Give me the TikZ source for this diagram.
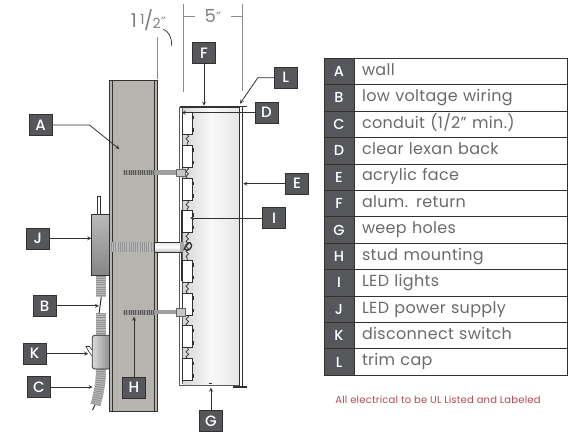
\documentclass[tikz,border=0pt]{standalone}
\usepackage{fontspec}
\setmainfont{Poppins}[LetterSpace=2]
\newfontfamily\tagfont{Poppins Medium}
\newfontfamily\primefont{DejaVu Sans}
\usepackage{tikz}
\usetikzlibrary{arrows,shapes,positioning,decorations.pathmorphing}
\definecolor{tagfill}{HTML}{55575A}
\definecolor{rowline}{HTML}{33302D}
\definecolor{rowtext}{HTML}{6A6A6A}
\definecolor{wallfill}{HTML}{B6B4AE}
\definecolor{notered}{HTML}{B5485A}
\tikzset{
  tag/.style={draw=rowline, line width=.6pt, fill=tagfill, text=white, font=\tagfont\fontsize{15}{15}\selectfont,
    minimum width=23pt, minimum height=21pt, inner sep=0pt},
  keybox/.style={draw=rowline, line width=.9pt, fill=tagfill, text=white, font=\tagfont\fontsize{14.5}{15}\selectfont,
    minimum width=30pt, minimum height=26.42pt, inner sep=0pt, outer sep=0pt},
  rowbox/.style={draw=rowline, line width=.9pt, text=rowtext, font=\fontsize{16}{15}\selectfont, text width=197.7pt,
    inner xsep=8pt, inner ysep=0pt, outer sep=0pt, minimum height=26.42pt, text height=10.5pt, text depth=3pt},
  callout/.style={->, >=stealth, draw=rowline, line width=.8pt},
  ledbox/.style={draw=rowline, line width=.7pt, fill=white, minimum width=10pt, minimum height=22pt, inner sep=0pt, outer sep=0pt},
  wire/.style={draw=rowline, line width=.7pt, decorate, decoration={snake, amplitude=1.3pt, segment length=5pt}},
  conduit/.style={line width=10pt, draw=gray!55, postaction={draw=gray!85, dash pattern=on 1pt off 1.2pt}},
  threadline/.style={line width=5pt, draw=rowline!80, postaction={draw=gray!80, dash pattern=on .8pt off 1pt}},
  dimline/.style={draw=gray!90, line width=.7pt},
}
\begin{document}
\begin{tikzpicture}[x=1pt, y=-1pt]
      \useasboundingbox (0,0) rectangle (571,432);

      % wall
      \draw[fill=wallfill, draw=rowline, line width=.7pt] (109,80) rectangle (157.7,411);
      \draw[rowline, line width=.7pt] (112.3,80) -- (112.3,411);
      \draw[rowline, line width=.7pt] (154.3,80) -- (154.3,411);

      % sign can
      \draw[left color=gray!32, right color=gray!20, middle color=gray!5, draw=none] (183,108) rectangle (239.5,385);
      \draw[rowline!80, line width=.7pt] (179.7,107) -- (179.7,385.7) -- (240,385.7);
      \draw[rowline!80, line width=.7pt] (182.3,108) -- (182.3,384);
      \draw[rowline, line width=.7pt] (239.3,107) -- (239.3,385.7);
      \draw[rowline, line width=.7pt] (242,107) -- (242,385.7);
      \draw[rowline, line width=1.3pt] (180,107) -- (240,107);
      \draw[rowline, line width=1.6pt, line cap=round] (233.5,106.5) -- (246.3,106.5);
      \draw[rowline, line width=1.2pt] (233,387) -- (246.5,387);
      \draw[rowline, line width=1.3pt] (208.5,383.5) -- (212,383.5);
      \draw[rowline, line width=1.1pt] (181.4,210) -- (181.4,281);

      % led lights
      \node[ledbox] (led1) at (187.3,123.7) {};
      \node[ledbox] (led2) at (187.3,156.3) {};
      \node[ledbox] (led3) at (187.3,189.5) {};
      \node[ledbox] (led4) at (187.3,221.3) {};
      \node[ledbox] (led5) at (187.3,271.3) {};
      \node[ledbox] (led6) at (187.3,304) {};
      \node[ledbox] (led7) at (187.3,336.7) {};
      \node[ledbox] (led8) at (187.3,369.5) {};
      \foreach \n in {1,...,8} {
        \draw[rowline, line width=.9pt] ([shift={(1,3)}]led\n.north east) -- +(0,-3.5pt);
        \draw[rowline, line width=.9pt] ([shift={(1,-3)}]led\n.south east) -- +(0,3.5pt);
      }
      \draw[wire] (led1.south) -- (led2.north);
      \draw[wire] (led2.south) -- (led3.north);
      \draw[wire] (led3.south) -- (led4.north);
      \draw[wire] (led4.south) -- (led5.north);
      \draw[wire] (led5.south) -- (led6.north);
      \draw[wire] (led6.south) -- (led7.north);
      \draw[wire] (led7.south) -- (led8.north);

      % studs
      \draw[threadline] (123,172.7) -- (155,172.7);
      \draw[gray!75, line width=4.5pt] (155,172.7) -- (178,172.7);
      \draw[fill=gray!45, draw=gray!80!black, line width=.5pt] (176,169) rectangle (185,176.5);
      \draw[threadline] (123,312) -- (155,312);
      \draw[gray!75, line width=4.5pt] (155,312) -- (178,312);
      \draw[fill=gray!45, draw=gray!80!black, line width=.5pt] (176,308.3) rectangle (185,315.8);
      \draw[conduit] (108.7,247) -- (154.7,247);
      \draw[top color=gray!20, bottom color=gray!50, middle color=white, draw=rowline, line width=.6pt] (154.7,242) rectangle (180,252);
      \fill[gray!70] (180,242) rectangle (184,252);
      \draw[rowline, line width=1.3pt] (184,250) .. controls (187,238) and (195,243) .. (190,249) .. controls (188,251) and (186,251) .. (185,249);

      % power supply
      \draw[fill=white, draw=rowline, line width=.7pt] (97.3,196.7) rectangle (100.5,214.7);
      \draw[top color=gray!55, bottom color=gray!95, draw=rowline, line width=.8pt] (91.3,214.7) rectangle (109,275.3);

      % conduit, wire and switch
      \draw[conduit] (101,275.5) -- (101,297);
      \draw[rowline, line width=1pt] (101.3,297) -- (99,314);
      \draw[conduit] (101,313) -- (101,336);
      \draw[conduit] (101,369) .. controls (101,385) and (98,395) .. (95.5,405);
      \draw[rowline, line width=1pt] (95,405) -- (92.5,410);
      \draw[rounded corners=2.5pt, left color=gray!30, right color=gray!85, draw=rowline, line width=.8pt] (109,335.3) -- (92.3,335.3) -- (92.3,369) -- (109,369);
      \draw[rowline, line width=.6pt, fill=white] (92,356) -- (88.5,351) -- (86,346.5) -- (89.5,346.5) -- (92,350);

      % dimensions
      \draw[dimline] (183,4) -- (183,91.7);
      \draw[dimline] (242.7,4) -- (242.7,91);
      \draw[dimline] (183,16) -- (195,16);
      \draw[dimline] (231,16) -- (242.7,16);
      \draw[dimline] (157.7,37) -- (157.7,79);
      \draw[dimline, draw=rowline] (163.3,29.3) .. controls (168.5,31) and (171.7,37) .. (171.7,46);
      \node[text=gray, font=\fontsize{18}{18}\selectfont, inner sep=0pt] (fivein) at (213,16) {5{\primefont\fontsize{14}{14}\selectfont ″}};
      \node[text=gray, font=\fontsize{19}{19}\selectfont, inner sep=0pt] (halfin) at (148.5,20) {1\,\raisebox{2.5pt}{\fontsize{14}{14}\selectfont 1}\hspace{-.5pt}/\hspace{-.5pt}\raisebox{-1pt}{\fontsize{14}{14}\selectfont 2}{\primefont\fontsize{14}{14}\selectfont ″}};

      % tags
      \node[tag] (A) at (40.7,125) {A};
      \node[tag] (B) at (44.5,305.8) {B};
      \node[tag] (C) at (39,387) {C};
      \node[tag] (D) at (266.5,112.7) {D};
      \node[tag] (E) at (297,183.7) {E};
      \node[tag] (F) at (204,53) {F};
      \node[tag] (G) at (211,421) {G};
      \node[tag] (H) at (134,387.7) {H};
      \node[tag] (I) at (274,218) {I};
      \node[tag] (J) at (37.8,238.3) {J};
      \node[tag] (K) at (34.5,353.7) {K};
      \node[tag] (L) at (285.7,77.7) {L};

      \coordinate (wallpt) at (119.3,149);
      \coordinate (wiringpt) at (99,305.8);
      \coordinate (conduitpt) at (92.7,387);
      \coordinate (lexanpt) at (181.7,112.7);
      \coordinate (acrylicpt) at (243.3,183.7);
      \coordinate (returnpt) at (204,105.7);
      \coordinate (weeppt) at (211,387.7);
      \coordinate (studpt) at (134,316.7);
      \coordinate (ledpt) at (190,218);
      \coordinate (supplypt) at (91.3,238.3);
      \coordinate (switchpt) at (88.3,353.7);
      \coordinate (cappt) at (240,103.7);

      \draw[callout] (A.east) -- ++(37,0) -- (wallpt);
      \draw[callout] (B) -- (wiringpt);
      \draw[callout] (C) -- (conduitpt);
      \draw[callout] (D) -- (lexanpt);
      \draw[callout] (E) -- (acrylicpt);
      \draw[callout] (F) -- (returnpt);
      \draw[callout] (G) -- (weeppt);
      \draw[callout] (H) -- (studpt);
      \draw[callout] (I) -- (ledpt);
      \draw[callout] (J) -- (supplypt);
      \draw[callout] (K) -- (switchpt);
      \draw[callout] (L.west) -- ++(-16,0) -- (cappt);

      % key table
      \node[keybox] (keya) at (339,71.5) {A};
      \node[rowbox, right=0pt of keya] (rowa) {wall};
      \node[keybox, below=0pt of keya] (keyb) {B};
      \node[rowbox, right=0pt of keyb] (rowb) {low voltage wiring};
      \node[keybox, below=0pt of keyb] (keyc) {C};
      \node[rowbox, right=0pt of keyc] (rowc) {conduit (1/2” min.)};
      \node[keybox, below=0pt of keyc] (keyd) {D};
      \node[rowbox, right=0pt of keyd] (rowd) {clear lexan back};
      \node[keybox, below=0pt of keyd] (keye) {E};
      \node[rowbox, right=0pt of keye] (rowe) {acrylic face};
      \node[keybox, below=0pt of keye] (keyf) {F};
      \node[rowbox, right=0pt of keyf] (rowf) {alum. return};
      \node[keybox, below=0pt of keyf] (keyg) {G};
      \node[rowbox, right=0pt of keyg] (rowg) {weep holes};
      \node[keybox, below=0pt of keyg] (keyh) {H};
      \node[rowbox, right=0pt of keyh] (rowh) {stud mounting};
      \node[keybox, below=0pt of keyh] (keyi) {I};
      \node[rowbox, right=0pt of keyi] (rowi) {LED lights};
      \node[keybox, below=0pt of keyi] (keyj) {J};
      \node[rowbox, right=0pt of keyj] (rowj) {LED power supply};
      \node[keybox, below=0pt of keyj] (keyk) {K};
      \node[rowbox, right=0pt of keyk] (rowk) {disconnect switch};
      \node[keybox, below=0pt of keyk] (keyl) {L};
      \node[rowbox, right=0pt of keyl] (rowl) {trim cap};

      \node[text=notered, font=\fontsize{10}{10}\selectfont, inner sep=0pt] (note) at (438,400) {All electrical to be UL Listed and Labeled};
\end{tikzpicture}
\end{document}
